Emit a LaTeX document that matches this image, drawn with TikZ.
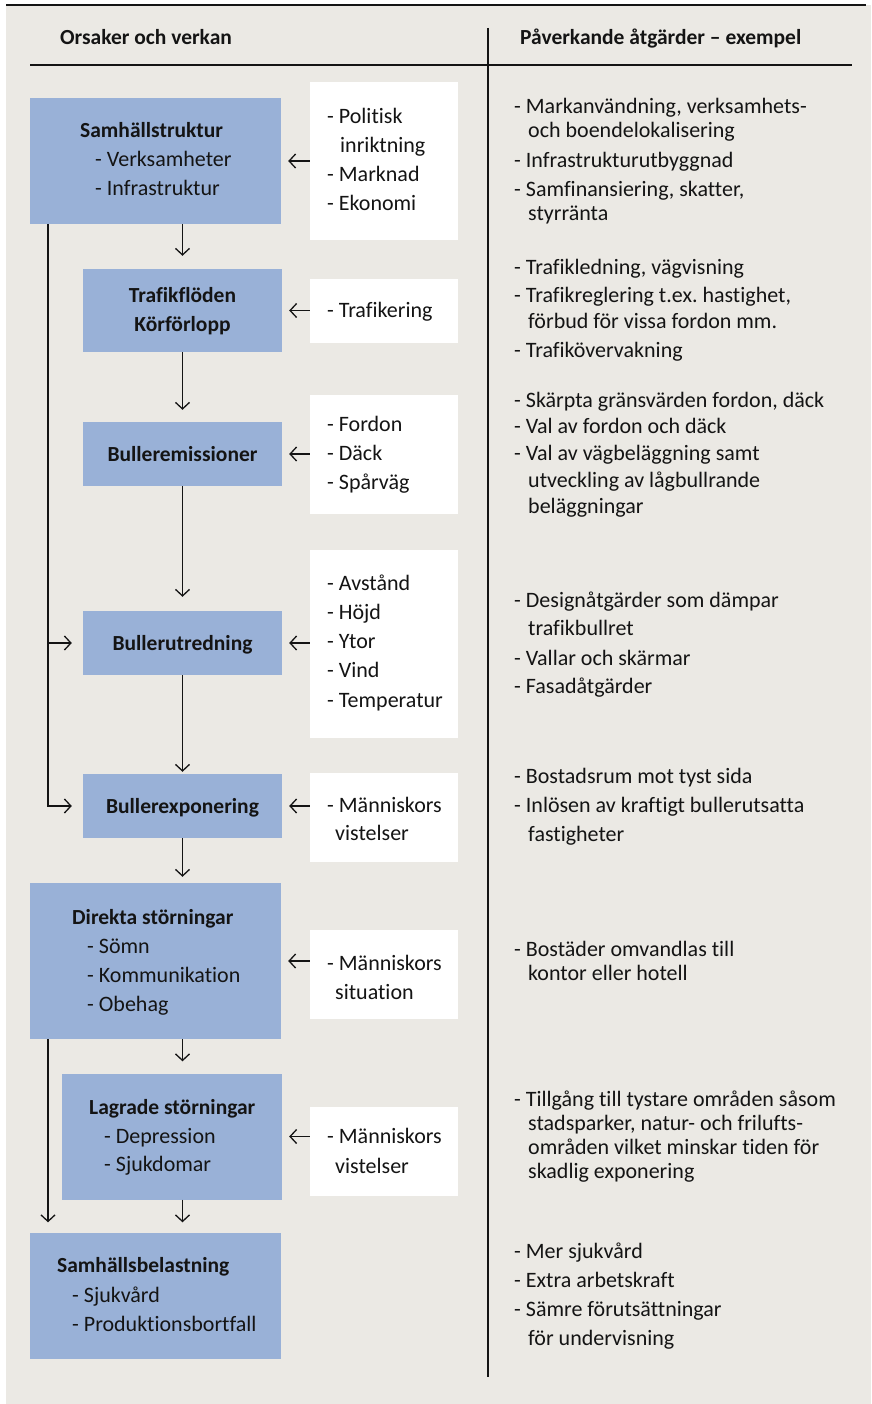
\documentclass[tikz,border=0pt]{standalone}
\usepackage{fontspec}
\setmainfont{Carlito}[Ligatures=NoCommon]
\frenchspacing
\usetikzlibrary{arrows.meta}
\definecolor{bggray}{HTML}{EBE9E4}
\definecolor{boxblue}{HTML}{99B1D7}
\definecolor{ink}{HTML}{141414}
\newcommand\mytext[4]{\node[txt,anchor=base west] (#1) at (#2,#3) {#4};}
\newcommand\mybold[4]{\node[txt,font=\fontsize{21.5}{25}\selectfont\bfseries,anchor=base west] (#1) at (#2,#3) {#4};}
\newcommand\mycbold[4]{\node[txt,font=\fontsize{21.5}{25}\selectfont\bfseries,anchor=base] (#1) at (#2,#3) {#4};}
\begin{document}
\begin{tikzpicture}[x=1pt,y=-1pt,
  txt/.style={inner sep=0pt,text=ink,font=\fontsize{22}{25}\selectfont},
  bluebox/.style={fill=boxblue,draw=none,inner sep=0pt},
  whitebox/.style={fill=white,draw=none,inner sep=0pt},
  arr/.style={draw=ink,line width=1.3pt,-{Straight Barb[length=6.5pt,width=14pt,line width=1.3pt]}},
  rule/.style={draw=ink,line width=1.3pt}]
\useasboundingbox (0,0) rectangle (871,1404);
\fill[bggray] (6,5) rectangle (871,1404);
\draw[ink,line width=1.5pt] (6,5) -- (866,5);
% headers
\node[txt,font=\fontsize{21.5}{25}\selectfont\bfseries,anchor=base west] (h1) at (60,45) {Orsaker och verkan};
\node[txt,font=\fontsize{21.5}{25}\selectfont\bfseries,anchor=base west] (h2) at (520,45) {Påverkande åtgärder – exempel};
\coordinate (vtop) at (488,28);
\coordinate (vbot) at (488,1377);
\draw[rule] (vtop) -- (vbot);
\coordinate (hl) at (30,65);
\coordinate (hr) at (852,65);
\draw[rule,line width=1.6pt] (hl) -- (hr);
% blue boxes
\node[bluebox,minimum width=251pt,minimum height=126pt] (b1) at (155.5,161) {};
\node[bluebox,minimum width=199pt,minimum height=83pt] (b2) at (182.5,310.5) {};
\node[bluebox,minimum width=199pt,minimum height=64pt] (b3) at (182.5,454) {};
\node[bluebox,minimum width=199pt,minimum height=64pt] (b4) at (182.5,643) {};
\node[bluebox,minimum width=199pt,minimum height=64pt] (b5) at (182.5,806) {};
\node[bluebox,minimum width=251pt,minimum height=156pt] (b6) at (155.5,961) {};
\node[bluebox,minimum width=220pt,minimum height=126pt] (b7) at (172,1136.5) {};
\node[bluebox,minimum width=251pt,minimum height=126pt] (b8) at (155.5,1295.5) {};
% white boxes
\node[whitebox,minimum width=148pt,minimum height=158pt] (w1) at (384,161) {};
\node[whitebox,minimum width=148pt,minimum height=63pt] (w2) at (384,311) {};
\node[whitebox,minimum width=148pt,minimum height=119pt] (w3) at (384,454.5) {};
\node[whitebox,minimum width=148pt,minimum height=188pt] (w4) at (384,644) {};
\node[whitebox,minimum width=148pt,minimum height=89pt] (w5) at (384,817) {};
\node[whitebox,minimum width=148pt,minimum height=89pt] (w6) at (384,974.5) {};
\node[whitebox,minimum width=148pt,minimum height=89pt] (w7) at (384,1151.5) {};
% blue box texts
\mybold{t1a}{80}{138}{Samhällstruktur}
\mytext{t1b}{95}{167}{- Verksamheter}
\mytext{t1c}{95}{196}{- Infrastruktur}
\mycbold{t2a}{182.5}{302}{Trafikflöden}
\mycbold{t2b}{182.5}{331}{Körförlopp}
\mycbold{t3a}{182.5}{461}{Bulleremissioner}
\mycbold{t4a}{182.5}{650}{Bullerutredning}
\mycbold{t5a}{182.5}{813}{Bullerexponering}
\mybold{t6a}{72}{924}{Direkta störningar}
\mytext{t6b}{87}{953}{- Sömn}
\mytext{t6c}{87}{982}{- Kommunikation}
\mytext{t6d}{87}{1011}{- Obehag}
\mybold{t7a}{89}{1114}{Lagrade störningar}
\mytext{t7b}{104}{1143}{- Depression}
\mytext{t7c}{104}{1171}{- Sjukdomar}
\mybold{t8a}{57}{1272}{Samhällsbelastning}
\mytext{t8b}{72}{1302}{- Sjukvård}
\mytext{t8c}{72}{1331}{- Produktionsbortfall}
% white box texts
\mytext{u1a}{327}{124}{- Politisk}
\mytext{u1b}{340}{153}{inriktning}
\mytext{u1c}{327}{182}{- Marknad}
\mytext{u1d}{327}{211}{- Ekonomi}
\mytext{u2a}{327}{317}{- Trafikering}
\mytext{u3a}{327}{431}{- Fordon}
\mytext{u3b}{327}{460}{- Däck}
\mytext{u3c}{327}{489}{- Spårväg}
\mytext{u4a}{327}{590}{- Avstånd}
\mytext{u4b}{327}{619}{- Höjd}
\mytext{u4c}{327}{648}{- Ytor}
\mytext{u4d}{327}{677}{- Vind}
\mytext{u4e}{327}{707}{- Temperatur}
\mytext{u5a}{327}{812}{- Människors}
\mytext{u5b}{335}{840}{vistelser}
\mytext{u6a}{327}{970}{- Människors}
\mytext{u6b}{335}{999}{situation}
\mytext{u7a}{327}{1143}{- Människors}
\mytext{u7b}{335}{1173}{vistelser}
% right column
\mytext{r1a}{514}{114}{- Markanvändning, verksamhets-}
\mytext{r1b}{528}{138}{och boendelokalisering}
\mytext{r1c}{514}{168}{- Infrastrukturutbyggnad}
\mytext{r1d}{514}{197}{- Samfinansiering, skatter,}
\mytext{r1e}{528}{221}{styrränta}
\mytext{r2a}{514}{275}{- Trafikledning, vägvisning}
\mytext{r2b}{514}{302}{- Trafikreglering t.ex. hastighet,}
\mytext{r2c}{528}{328}{förbud för vissa fordon mm.}
\mytext{r2d}{514}{357}{- Trafikövervakning}
\mytext{r3a}{514}{407}{- Skärpta gränsvärden fordon, däck}
\mytext{r3b}{514}{433}{- Val av fordon och däck}
\mytext{r3c}{514}{460}{- Val av vägbeläggning samt}
\mytext{r3d}{528}{487}{utveckling av lågbullrande}
\mytext{r3e}{528}{513}{beläggningar}
\mytext{r4a}{514}{607}{- Designåtgärder som dämpar}
\mytext{r4b}{528}{635}{trafikbullret}
\mytext{r4c}{514}{665}{- Vallar och skärmar}
\mytext{r4d}{514}{693}{- Fasadåtgärder}
\mytext{r5a}{514}{783}{- Bostadsrum mot tyst sida}
\mytext{r5b}{514}{812}{- Inlösen av kraftigt bullerutsatta}
\mytext{r5c}{528}{841}{fastigheter}
\mytext{r6a}{514}{956}{- Bostäder omvandlas till}
\mytext{r6b}{528}{980}{kontor eller hotell}
\mytext{r7a}{514}{1106}{- Tillgång till tystare områden såsom}
\mytext{r7b}{528}{1130}{stadsparker, natur- och frilufts-}
\mytext{r7c}{528}{1154}{områden vilket minskar tiden för}
\mytext{r7d}{528}{1178}{skadlig exponering}
\mytext{r8a}{514}{1258}{- Mer sjukvård}
\mytext{r8b}{514}{1287}{- Extra arbetskraft}
\mytext{r8c}{514}{1316}{- Sämre förutsättningar}
\mytext{r8d}{528}{1345}{för undervisning}
% horizontal arrows from white boxes
\foreach \i in {1,...,7}{
  \draw[arr,shorten >=7pt] (b\i.east -| w\i.west) -- (b\i.east);
}
% vertical arrows (main chain at x of the narrow boxes' centre)
\draw[arr,shorten >=13pt] (b1.south -| b2.north) -- (b2.north);
\draw[arr,shorten >=12pt] (b2.south) -- (b3.north);
\draw[arr,shorten >=14pt] (b3.south) -- (b4.north);
\draw[arr,shorten >=2pt] (b4.south) -- (b5.north);
\draw[arr,shorten >=6pt] (b5.south) -- (b5.south |- b6.north);
\draw[arr,shorten >=12pt] (b6.south -| b5.south) -- (b5.south |- b7.north);
\draw[arr,shorten >=10pt] (b7.south -| b5.south) -- (b5.south |- b8.north);
% left bypass lines
\coordinate (L) at (48,224);
\draw[arr,shorten >=11pt] (b1.south -| L) -- (L |- b5.west) -- (b5.west);
\draw[arr,shorten >=11pt] (L |- b4.west) -- (b4.west);
\draw[arr,shorten >=10pt] (b6.south -| L) -- (L |- b8.north);
\end{tikzpicture}
\end{document}
